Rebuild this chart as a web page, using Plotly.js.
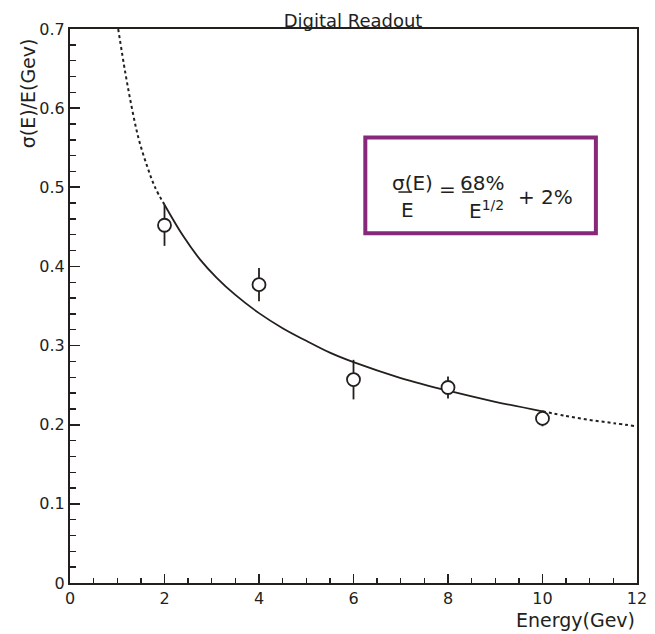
<!DOCTYPE html>
<html>
<head>
<meta charset="utf-8">
<script src="https://cdn.plot.ly/plotly-3.0.1.min.js"></script>
<style>html,body{margin:0;padding:0;background:#fff;}#chart{width:655px;height:634px;}</style>
</head>
<body>
<div id="chart"></div>
<script>
// Measured points
var energy = [2, 4, 6, 8, 10];
var resolution = [0.452, 0.377, 0.257, 0.247, 0.208];
var resErr = [0.026, 0.021, 0.025, 0.014, 0.010];

// Fit curve
var fitLowX = [1.02, 1.17, 1.31, 1.45, 1.63, 1.80, 2.0];
var fitLowY = [0.700, 0.645, 0.600, 0.562, 0.527, 0.500, 0.478];
var fitMidX = [2, 2.4, 2.75, 3.1, 3.5, 4, 4.5, 5, 5.5, 6, 7, 8, 9, 10];
var fitMidY = [0.478, 0.438, 0.409, 0.386, 0.364, 0.341, 0.322, 0.306, 0.291, 0.279, 0.259, 0.243, 0.229, 0.217];
var fitHighX = [10, 10.5, 11, 11.5, 12];
var fitHighY = [0.217, 0.211, 0.206, 0.202, 0.198];

var ink = '#231f1c';
var purple = '#86297a';
var FONT = 'DejaVu Sans';

var traces = [
  {x: fitLowX, y: fitLowY, mode: 'lines', line: {color: ink, width: 2, dash: '3px,3px', shape: 'spline'}, hoverinfo: 'skip'},
  {x: fitMidX, y: fitMidY, mode: 'lines', line: {color: ink, width: 1.8, shape: 'spline'}, hoverinfo: 'skip'},
  {x: fitHighX, y: fitHighY, mode: 'lines', line: {color: ink, width: 2, dash: '3px,3px', shape: 'spline'}, hoverinfo: 'skip'},
  {x: energy, y: resolution, mode: 'markers',
   marker: {symbol: 'circle', size: 13, color: 'white', line: {color: ink, width: 1.8}},
   error_y: {type: 'data', array: resErr, visible: true, color: ink, thickness: 1.8, width: 0}}
];

var layout = {
  width: 655, height: 634,
  margin: {l: 70, r: 18, t: 29, b: 51},
  paper_bgcolor: 'white', plot_bgcolor: 'white',
  showlegend: false,
  font: {family: FONT, color: ink},
  title: {text: 'Digital Readout', font: {family: FONT, size: 18, color: ink},
          x: 0.539, xanchor: 'center', y: 0.968, yanchor: 'middle'},
  xaxis: {
    range: [0, 12], tickmode: 'linear', tick0: 0, dtick: 2,
    ticks: 'inside', ticklen: 9, tickwidth: 1.6, tickcolor: ink,
    minor: {dtick: 0.5, ticks: 'inside', ticklen: 5, tickwidth: 1.4, tickcolor: ink},
    showline: true, linecolor: ink, linewidth: 2, mirror: true,
    showgrid: false, zeroline: false,
    tickfont: {family: FONT, size: 16, color: ink}
  },
  yaxis: {
    range: [0, 0.7], tickmode: 'linear', tick0: 0, dtick: 0.1,
    ticks: 'inside', ticklen: 10, tickwidth: 1.6, tickcolor: ink,
    minor: {dtick: 0.02, ticks: 'inside', ticklen: 6, tickwidth: 1.4, tickcolor: ink},
    showline: true, linecolor: ink, linewidth: 2, mirror: true,
    showgrid: false, zeroline: false,
    tickfont: {family: FONT, size: 16, color: ink}
  },
  shapes: [
    {type: 'rect', xref: 'x', yref: 'y', x0: 6.25, x1: 11.13, y0: 0.442, y1: 0.563,
     line: {color: purple, width: 4}, fillcolor: 'rgba(0,0,0,0)'},
    {type: 'line', xref: 'x', yref: 'y', x0: 6.95, x1: 7.24, y0: 0.494, y1: 0.494,
     line: {color: ink, width: 1.5}},
    {type: 'line', xref: 'x', yref: 'y', x0: 8.30, x1: 8.55, y0: 0.494, y1: 0.494,
     line: {color: ink, width: 1.5}}
  ],
  annotations: [
    {xref: 'paper', yref: 'paper', x: -0.074, y: 0.884, xanchor: 'center', yanchor: 'middle',
     text: 'σ(E)/E(Gev)', textangle: -90, showarrow: false, font: {family: FONT, size: 19, color: ink}},
    {xref: 'paper', yref: 'paper', x: 1.0, y: -0.067, xanchor: 'right', yanchor: 'middle',
     text: 'Energy(Gev)', showarrow: false, font: {family: FONT, size: 19, color: ink}},
    {xref: 'x', yref: 'y', x: 7.243, y: 0.505, xanchor: 'center', yanchor: 'middle',
     text: 'σ(E)', showarrow: false, font: {family: FONT, size: 20, color: ink}},
    {xref: 'x', yref: 'y', x: 7.137, y: 0.471, xanchor: 'center', yanchor: 'middle',
     text: 'E', showarrow: false, font: {family: FONT, size: 20, color: ink}},
    {xref: 'x', yref: 'y', x: 7.984, y: 0.498, xanchor: 'center', yanchor: 'middle',
     text: '=', showarrow: false, font: {family: FONT, size: 20, color: ink}},
    {xref: 'x', yref: 'y', x: 8.725, y: 0.505, xanchor: 'center', yanchor: 'middle',
     text: '68%', showarrow: false, font: {family: FONT, size: 20, color: ink}},
    {xref: 'x', yref: 'y', x: 8.40, y: 0.471, xanchor: 'left', yanchor: 'middle',
     text: 'E<sup>1/2</sup>', showarrow: false, font: {family: FONT, size: 20, color: ink}},
    {xref: 'x', yref: 'y', x: 10.06, y: 0.488, xanchor: 'center', yanchor: 'middle',
     text: '+ 2%', showarrow: false, font: {family: FONT, size: 20, color: ink}}
  ]
};

Plotly.newPlot('chart', traces, layout, {displayModeBar: false, staticPlot: true});
</script>
</body>
</html>
